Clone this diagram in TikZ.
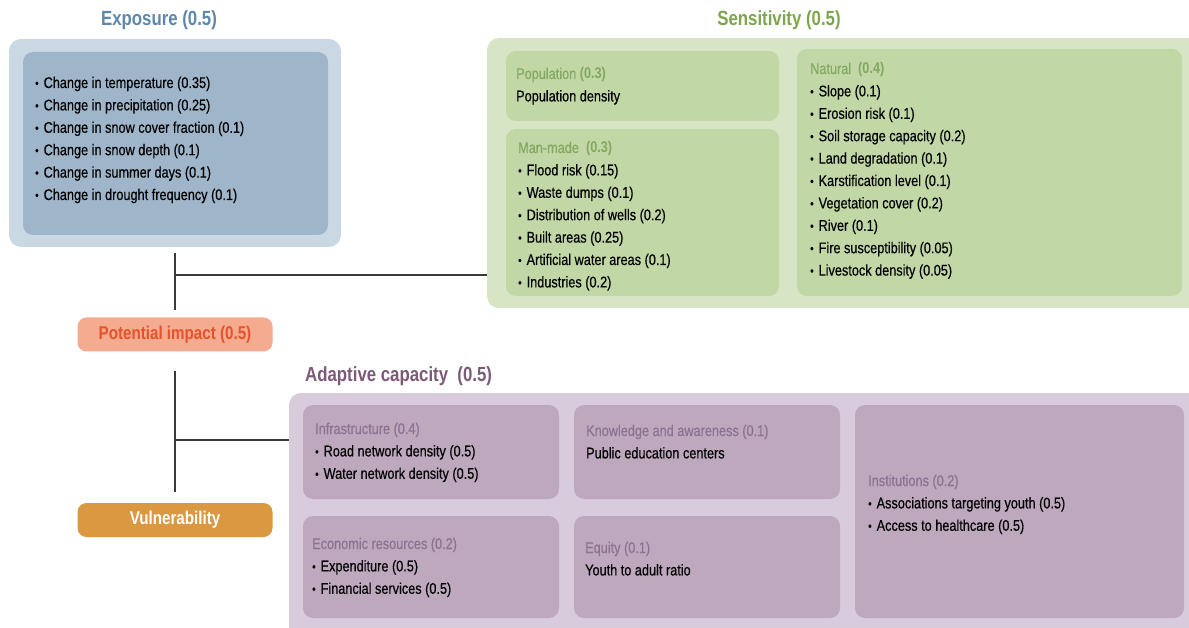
\documentclass[tikz,border=0pt]{standalone}
\usepackage{fontspec}
\setmainfont{Liberation Sans}[FakeStretch=0.82, UprightFeatures={FakeBold=0.4}]
\usetikzlibrary{positioning}

\definecolor{expotitle}{HTML}{5E88AA}
\definecolor{expoout}{HTML}{CAD8E3}
\definecolor{expoin}{HTML}{9FB6CA}
\definecolor{senstitle}{HTML}{7EA54E}
\definecolor{sensout}{HTML}{D7E5C5}
\definecolor{sensin}{HTML}{C2D7A6}
\definecolor{senshead}{HTML}{84A860}
\definecolor{adatitle}{HTML}{7B5A78}
\definecolor{adaout}{HTML}{D8CBDB}
\definecolor{adain}{HTML}{BEA8BE}
\definecolor{adahead}{HTML}{8C7290}
\definecolor{potfill}{HTML}{F4AB8F}
\definecolor{pottext}{HTML}{E5522B}
\definecolor{vulfill}{HTML}{DA9841}
\definecolor{linkgray}{HTML}{3A3A3A}

\tikzstyle{outerbox} = [rectangle, rounded corners=12pt, inner sep=0pt,
    outer sep=0pt, anchor=north west]
\tikzstyle{innerbox} = [rectangle, rounded corners=10pt, inner sep=0pt,
    outer sep=0pt, anchor=north west]
\tikzstyle{grouptitle} = [inner sep=0pt, font=\fontsize{20.5}{25}\selectfont\bfseries]
\tikzstyle{listtext} = [anchor=base west, inner sep=0pt,
    font=\fontsize{15.5}{22.4}\selectfont]
\tikzstyle{pill} = [rectangle, rounded corners=9pt, minimum width=195pt,
    minimum height=34pt, inner sep=0pt, font=\fontsize{18.5}{22}\selectfont\bfseries]
\tikzstyle{link} = [draw=linkgray, line width=1.1pt]

\newcommand{\itm}{\raisebox{0.6pt}{\fontsize{12}{12}\selectfont\textbullet}\hspace{5pt}}

\begin{document}
\begin{tikzpicture}[x=1pt,y=-1pt]
\useasboundingbox (0,0) rectangle (1189,628);

% Exposure
\node[outerbox, fill=expoout, minimum width=332pt, minimum height=208pt] (expo) at (9,39) {};
\node[innerbox, fill=expoin, minimum width=305pt, minimum height=183pt] (expoin) at (23,52) {};
\node[grouptitle, text=expotitle] (expotitle) at (159,20) {Exposure (0.5)};
\node[listtext] (expolist) at (35,88) {%
    \begin{minipage}[t]{280pt}
    \itm Change in temperature (0.35)\\
    \itm Change in precipitation (0.25)\\
    \itm Change in snow cover fraction (0.1)\\
    \itm Change in snow depth (0.1)\\
    \itm Change in summer days (0.1)\\
    \itm Change in drought frequency (0.1)
    \end{minipage}
};

% Sensitivity
\node[outerbox, fill=sensout, minimum width=720pt, minimum height=270pt] (sens) at (487,38) {};
\node[grouptitle, text=senstitle] (senstitle) at (779,20) {Sensitivity (0.5)};
\node[innerbox, fill=sensin, minimum width=273pt, minimum height=70pt] (popbox) at (506,51) {};
\node[innerbox, fill=sensin, minimum width=273pt, minimum height=167pt] (manbox) at (506,129) {};
\node[innerbox, fill=sensin, minimum width=385pt, minimum height=247pt] (natbox) at (797,49) {};
\node[listtext] (poplist) at (516,79) {%
    \begin{minipage}[t]{250pt}
    \leavevmode{\color{senshead}Population \textbf{(0.3)}}\\
    Population density
    \end{minipage}
};
\node[listtext] (manlist) at (518,153) {%
    \begin{minipage}[t]{250pt}
    \leavevmode{\color{senshead}Man-made \ \textbf{(0.3)}}\\
    \itm Flood risk (0.15)\\
    \itm Waste dumps (0.1)\\
    \itm Distribution of wells (0.2)\\
    \itm Built areas (0.25)\\
    \itm Artificial water areas (0.1)\\
    \itm Industries (0.2)
    \end{minipage}
};
\node[listtext] (natlist) at (810,74) {%
    \begin{minipage}[t]{350pt}
    \leavevmode{\color{senshead}Natural \ \textbf{(0.4)}}\\
    \itm Slope (0.1)\\
    \itm Erosion risk (0.1)\\
    \itm Soil storage capacity (0.2)\\
    \itm Land degradation (0.1)\\
    \itm Karstification level (0.1)\\
    \itm Vegetation cover (0.2)\\
    \itm River (0.1)\\
    \itm Fire susceptibility (0.05)\\
    \itm Livestock density (0.05)
    \end{minipage}
};

% Potential impact and vulnerability
\node[pill, fill=potfill, text=pottext] (pot) at (175,334.5) {Potential impact (0.5)};
\node[pill, fill=vulfill, text=white] (vul) at (175,520) {Vulnerability};

% Adaptive capacity
\node[outerbox, fill=adaout, minimum width=920pt, minimum height=250pt] (ada) at (289,393) {};
\node[grouptitle, text=adatitle, anchor=west] (adatitle) at (305,376) {Adaptive capacity \ (0.5)};
\node[innerbox, fill=adain, minimum width=256pt, minimum height=94pt] (infbox) at (303,405) {};
\node[innerbox, fill=adain, minimum width=266pt, minimum height=94pt] (knowbox) at (574,405) {};
\node[innerbox, fill=adain, minimum width=256pt, minimum height=102pt] (econbox) at (303,516) {};
\node[innerbox, fill=adain, minimum width=266pt, minimum height=102pt] (equbox) at (574,516) {};
\node[innerbox, fill=adain, minimum width=329pt, minimum height=213pt] (instbox) at (855,405) {};
\node[listtext] (inflist) at (315,434) {%
    \begin{minipage}[t]{240pt}
    \leavevmode{\color{adahead}Infrastructure (0.4)}\\
    \itm Road network density (0.5)\\
    \itm Water network density (0.5)
    \end{minipage}
};
\node[listtext] (knowlist) at (586,436) {%
    \begin{minipage}[t]{250pt}
    \leavevmode{\color{adahead}Knowledge and awareness (0.1)}\\
    Public education centers
    \end{minipage}
};
\node[listtext] (econlist) at (312,549) {%
    \begin{minipage}[t]{240pt}
    \leavevmode{\color{adahead}Economic resources (0.2)}\\
    \itm Expenditure (0.5)\\
    \itm Financial services (0.5)
    \end{minipage}
};
\node[listtext] (equlist) at (585,553) {%
    \begin{minipage}[t]{250pt}
    \leavevmode{\color{adahead}Equity (0.1)}\\
    Youth to adult ratio
    \end{minipage}
};
\node[listtext] (instlist) at (868,486) {%
    \begin{minipage}[t]{300pt}
    \leavevmode{\color{adahead}Institutions (0.2)}\\
    \itm Associations targeting youth (0.5)\\
    \itm Access to healthcare (0.5)
    \end{minipage}
};

% connectors
\coordinate (sensjoin) at (175,275);
\coordinate (adajoin) at (175,440);
\draw[link] ([yshift=-6pt]expo.south) -- ([yshift=7pt]pot.north);
\draw[link] (sensjoin) -- (sens.west |- sensjoin);
\draw[link] ([yshift=-19pt]pot.south) -- ([yshift=11pt]vul.north);
\draw[link] (adajoin) -- (ada.west |- adajoin);
\end{tikzpicture}
\end{document}
